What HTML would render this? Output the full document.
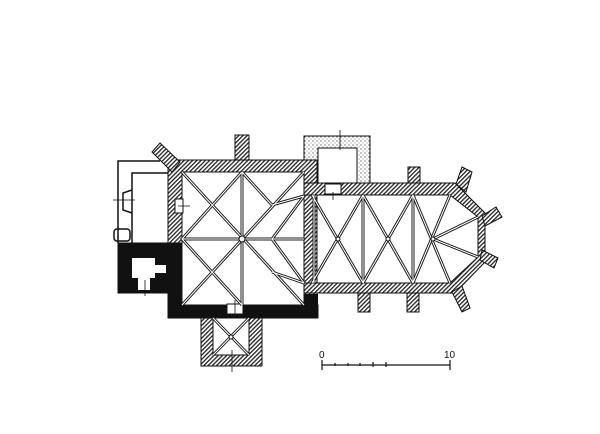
<!DOCTYPE html>
<html><head><meta charset="utf-8"><style>
html,body{margin:0;padding:0;background:#fff;width:600px;height:434px;overflow:hidden}
</style></head><body>
<svg width="600" height="434" viewBox="0 0 600 434" xmlns="http://www.w3.org/2000/svg">
<defs>
<pattern id="h" width="3" height="3" patternUnits="userSpaceOnUse" patternTransform="rotate(45)">
<rect width="3" height="3" fill="#fff"/><rect width="1.3" height="3" fill="#222"/>
</pattern>
<pattern id="d" width="4" height="4" patternUnits="userSpaceOnUse">
<rect width="4" height="4" fill="#fff"/><circle cx="1" cy="1" r="0.6" fill="#333"/><circle cx="3" cy="3" r="0.5" fill="#555"/>
</pattern>
<g id="ribs">
<path d="M182,172 L304,305 M304,172 L182,305 M242,172 V305 M182,239 H304"/>
<path d="M242,172 L182,239 L242,305 M242,172 L272,205"/>
<path d="M272,205 L304,196 M272,272 L304,283 M272,239 L304,196 M272,239 L304,283 M272,239 H242"/>
<path d="M312,195 L363,283 M363,195 L312,283 M363,195 L413,283 M413,195 L363,283"/>
<path d="M413,195 L450,283 M450,195 L413,283 M433,239 L478,217 M433,239 L478,257"/>
<path d="M314,195 V283 M363,195 V283 M413,195 V283"/>
<path d="M213,318 L249,355 M249,318 L213,355"/>
</g>
</defs>
<g stroke="#111" stroke-width="1">
<rect x="304" y="136" width="66" height="47" fill="url(#d)"/>
<rect x="318" y="148" width="39" height="38" fill="#fff"/>
<path d="M168,160 H317 V306 H304 V172 H182 V306 H168 Z" fill="url(#h)"/>
<rect x="235" y="135" width="14" height="25" fill="url(#h)"/>
<polygon points="152,152 160,143 180,162 172,172" fill="url(#h)"/>
<path d="M304,183 H455 L485,213 V262 L455,293 H304 V283 H450 L478,257 V217 L450,195 H304 Z" fill="url(#h)"/>
<rect x="408" y="167" width="12" height="16" fill="url(#h)"/>
<rect x="358" y="293" width="12" height="19" fill="url(#h)"/>
<rect x="407" y="293" width="12" height="19" fill="url(#h)"/>
<polygon points="456,184 462,167 472,172 466,192" fill="url(#h)"/>
<polygon points="482,216 496,207 502,217 485,226" fill="url(#h)"/>
<polygon points="482,250 498,258 494,268 480,260" fill="url(#h)"/>
<polygon points="452,292 462,286 470,308 462,312" fill="url(#h)"/>
<path d="M201,318 H262 V366 H201 Z M213,318 V355 H249 V318 Z" fill="url(#h)" fill-rule="evenodd"/>
<path d="M118,243 H182 V305 H318 V318 H168 V293 H118 Z" fill="#111"/>
</g>
<rect x="304" y="294" width="14" height="12" fill="#111"/>
<rect x="132" y="258" width="23" height="20" fill="#fff"/>
<rect x="155" y="265" width="11" height="8" fill="#fff"/>
<rect x="138" y="278" width="12" height="12" fill="#fff"/>
<rect x="227" y="304" width="16" height="10" fill="#fff" stroke="#111"/>
<rect x="175" y="199" width="8" height="14" fill="#fff" stroke="#111"/>
<rect x="325" y="184" width="16" height="10" fill="#fff" stroke="#111"/>
<g fill="none" stroke="#111" stroke-width="1.5">
<path d="M160,161 H118 V243"/>
<path d="M168,173 H132 V243"/>
<path d="M132,190 L123,193 V210 L132,213"/>
<rect x="114" y="229" width="16" height="12" rx="3"/>
</g>
<use href="#ribs" stroke="#222" stroke-width="3" fill="none"/>
<use href="#ribs" stroke="#fff" stroke-width="1" fill="none"/>
<g fill="#fff" stroke="#111"><circle cx="242" cy="239" r="3"/><circle cx="338" cy="239" r="2"/><circle cx="388" cy="239" r="2"/><circle cx="433" cy="239" r="2"/><circle cx="231" cy="337" r="2"/></g>
<g stroke="#111" stroke-width="0.8">
<path d="M340,130 V150 M333,192 V200 M113,200 H135 M190,206 H178 M235,300 V318 M232,350 V372 M145,280 V296"/>
</g>
<g stroke="#111" stroke-width="1.2">
<path d="M322,365 H450 M322,360 V370 M450,360 V370 M335,363 V366 M348,363 V366 M360,363 V366 M373,362 V367 M386,362 V367"/>
</g>
<text x="319" y="358" font-family="Liberation Sans, sans-serif" font-size="10" fill="#111">0</text>
<text x="444" y="358" font-family="Liberation Sans, sans-serif" font-size="10" fill="#111">10</text>
</svg>
</body></html>
